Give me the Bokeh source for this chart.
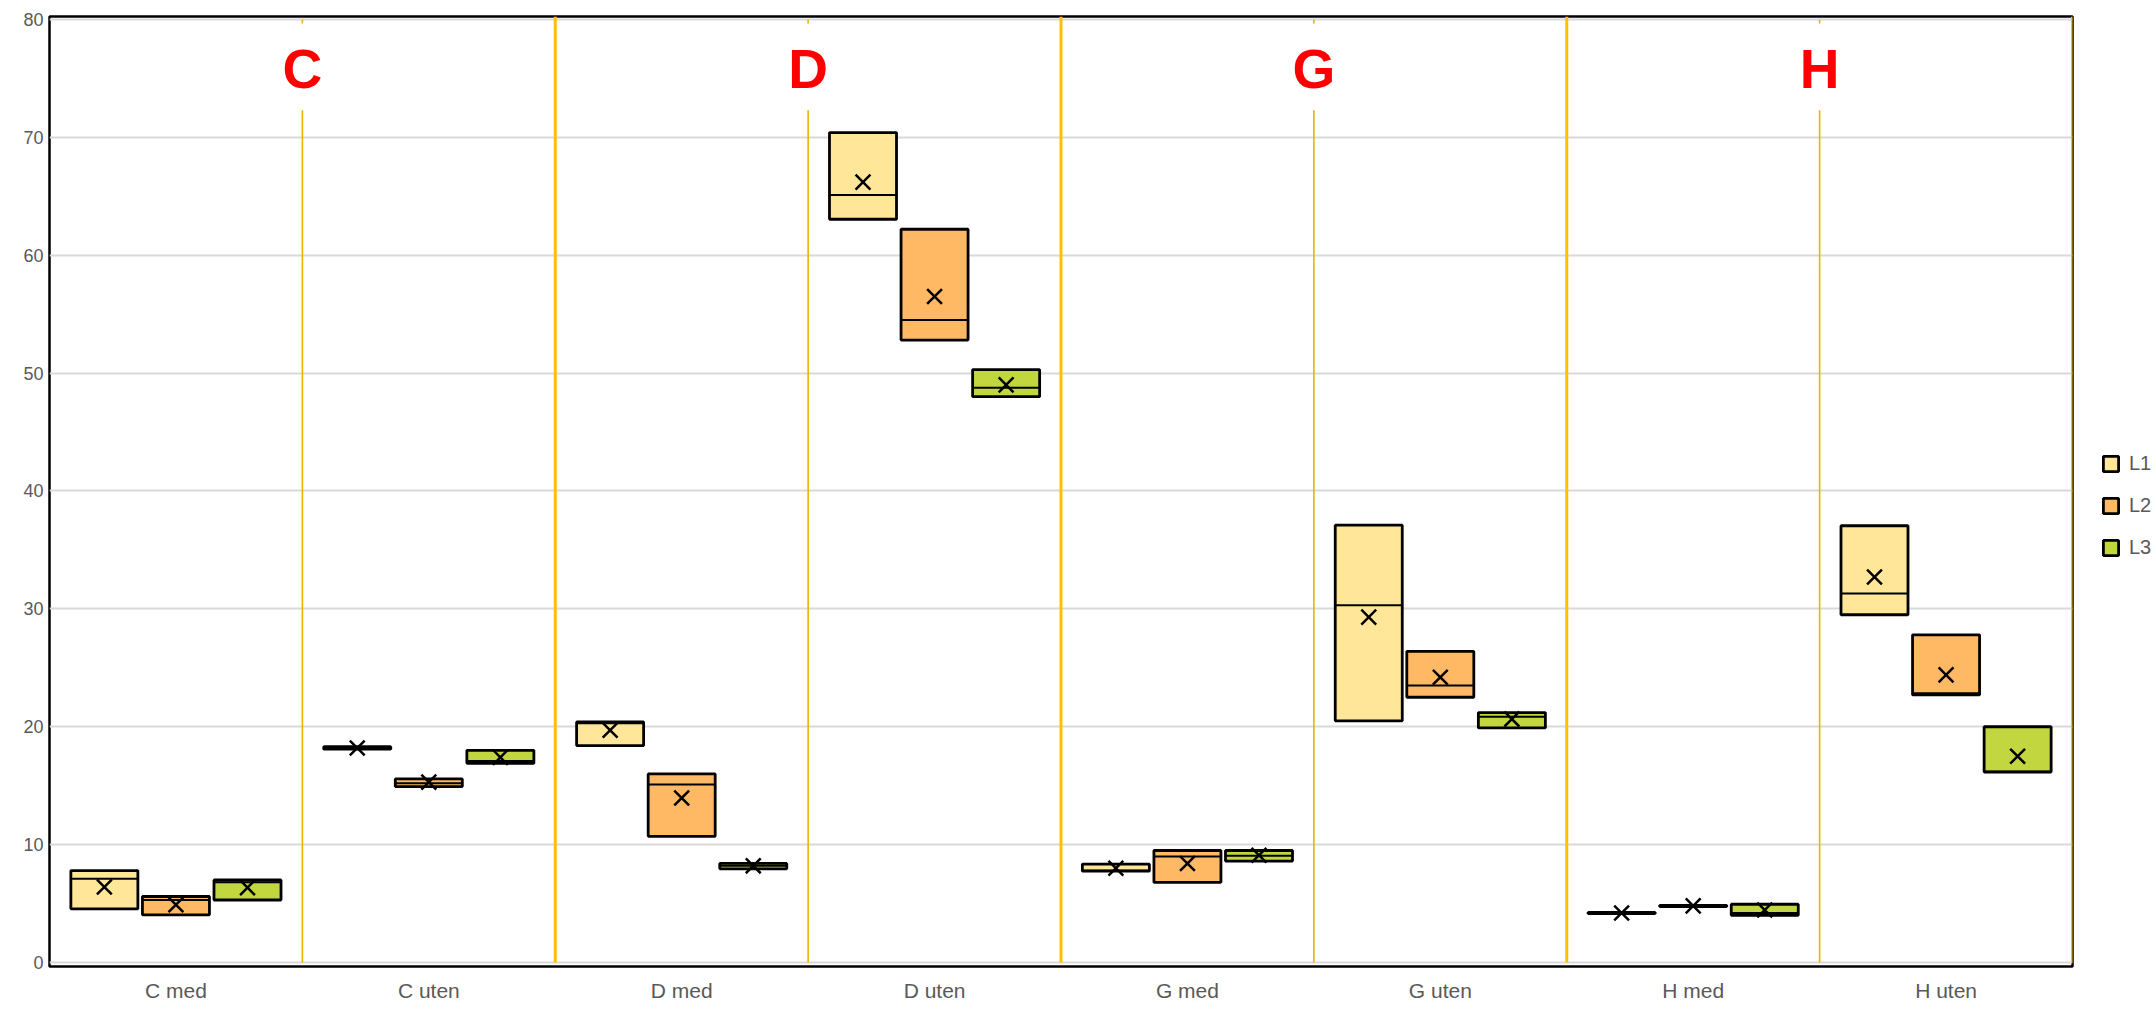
from bokeh.plotting import figure
from bokeh.models import (FactorRange, Range1d, Legend, LegendItem,
                          ColumnDataSource, FixedTicker)
from bokeh.transform import dodge
from bokeh.embed import file_html
from bokeh.resources import INLINE
from bokeh.core.properties import value

# ---------------- data ----------------
categories = ["C med", "C uten", "D med", "D uten", "G med", "G uten", "H med", "H uten"]
group_labels = ["C", "D", "G", "H"]
series_names = ["L1", "L2", "L3"]

l1_q1 = [4.55, 18.1, 18.4, 63.05, 7.75, 20.5, 4.15, 29.5]
l1_med = [7.1, 18.2, 20.3, 65.1, 7.8, 30.3, 4.2, 31.3]
l1_q3 = [7.8, 18.3, 20.4, 70.4, 8.35, 37.1, 4.25, 37.05]
l1_mean = [6.4, 18.2, 19.7, 66.2, 8.0, 29.3, 4.2, 32.7]

l2_q1 = [4.04, 14.92, 10.7, 52.8, 6.8, 22.5, 4.75, 22.7]
l2_med = [5.3, 15.2, 15.1, 54.5, 9.0, 23.5, 4.8, 22.85]
l2_q3 = [5.6, 15.57, 16.0, 62.2, 9.5, 26.4, 4.85, 27.8]
l2_mean = [4.9, 15.3, 13.95, 56.5, 8.4, 24.2, 4.8, 24.4]

l3_q1 = [5.3, 16.9, 7.95, 48.0, 8.6, 19.9, 4.0, 16.15]
l3_med = [6.8, 17.1, 8.2, 48.76, 9.05, 20.85, 4.2, 16.2]
l3_q3 = [7.0, 18.0, 8.4, 50.3, 9.5, 21.2, 4.94, 20.0]
l3_mean = [6.35, 17.4, 8.2, 49.0, 9.1, 20.65, 4.45, 17.5]

y_ticks = [0, 10, 20, 30, 40, 50, 60, 70, 80]

fills = ["#FFE699", "#FFB964", "#C2D73F"]
offsets = [-0.283, 0.0, 0.283]
box_w = 0.265

# ---------------- figure ----------------
x_range = FactorRange(factors=categories, range_padding=0, factor_padding=0)
p = figure(x_range=x_range, y_range=Range1d(-0.34, 80.25),
           frame_width=2023, frame_height=950,
           min_border_left=49, min_border_top=16, min_border_right=80, min_border_bottom=35,
           output_backend="svg", toolbar_location=None,
           background_fill_color="white", border_fill_color="white")

p.outline_line_color = "black"
p.outline_line_width = 2.5

p.xgrid.grid_line_color = None
p.ygrid.grid_line_color = "#D9D9D9"
p.ygrid.grid_line_width = 2

p.yaxis.ticker = FixedTicker(ticks=y_ticks)
for ax in (p.xaxis[0], p.yaxis[0]):
    ax.axis_line_color = None
    ax.major_tick_line_color = None
    ax.minor_tick_line_color = None
    ax.major_tick_out = 0
    ax.major_tick_in = 0
    ax.major_label_text_font = "Liberation Sans"
    ax.major_label_text_color = "#595959"
p.yaxis.major_label_text_font_size = "18px"
p.yaxis.major_label_standoff = 6
p.xaxis.major_label_text_font_size = "21px"
p.xaxis.major_label_standoff = 12

# ---------------- group separator lines ----------------
n = len(categories)
thick_x = [float(i) for i in range(2, n + 1, 2)]
thin_x = [float(i) for i in range(1, n, 2)]
p.segment(x0=thick_x, x1=thick_x, y0=[0] * len(thick_x), y1=[80.25] * len(thick_x),
          line_color="#FFC000", line_width=3)
p.segment(x0=thin_x, x1=thin_x, y0=[0] * len(thin_x), y1=[72.3] * len(thin_x),
          line_color="#EBB300", line_width=1.6)
p.segment(x0=thin_x, x1=thin_x, y0=[79.65] * len(thin_x), y1=[80.0] * len(thin_x),
          line_color="#EBB300", line_width=1.6)

p.text(x=thin_x, y=[75.8] * len(thin_x), text=group_labels,
       text_font=value("Liberation Sans"), text_font_style="bold",
       text_font_size="55px", text_color="#FF0000",
       text_align="center", text_baseline="middle")

# ---------------- boxes ----------------
data = [
    (l1_q1, l1_med, l1_q3, l1_mean),
    (l2_q1, l2_med, l2_q3, l2_mean),
    (l3_q1, l3_med, l3_q3, l3_mean),
]
items = []
for name, (q1, med, q3, mean), fill, off in zip(series_names, data, fills, offsets):
    src = ColumnDataSource(dict(cat=categories, q1=q1, med=med, q3=q3, mean=mean))
    r = p.vbar(x=dodge("cat", off, range=p.x_range), top="q3", bottom="q1", width=box_w,
               source=src, fill_color=fill, line_color="black", line_width=2.8)
    p.segment(x0=dodge("cat", off - box_w / 2, range=p.x_range),
              x1=dodge("cat", off + box_w / 2, range=p.x_range),
              y0="med", y1="med", source=src, line_color="black", line_width=2)
    p.scatter(x=dodge("cat", off, range=p.x_range), y="mean", source=src,
              marker="x", size=21, line_color="black", line_width=2.5)
    items.append(LegendItem(label=name, renderers=[r]))

legend = Legend(items=items, location=(29, 407), orientation="vertical",
                padding=0, margin=0, spacing=19,
                glyph_width=19, glyph_height=19, label_height=19, label_standoff=9,
                label_text_font="Liberation Sans", label_text_font_size="20px",
                label_text_color="#595959", border_line_color=None,
                background_fill_alpha=0)
p.add_layout(legend, "right")

open("out.html", "w").write(file_html(p, INLINE))
